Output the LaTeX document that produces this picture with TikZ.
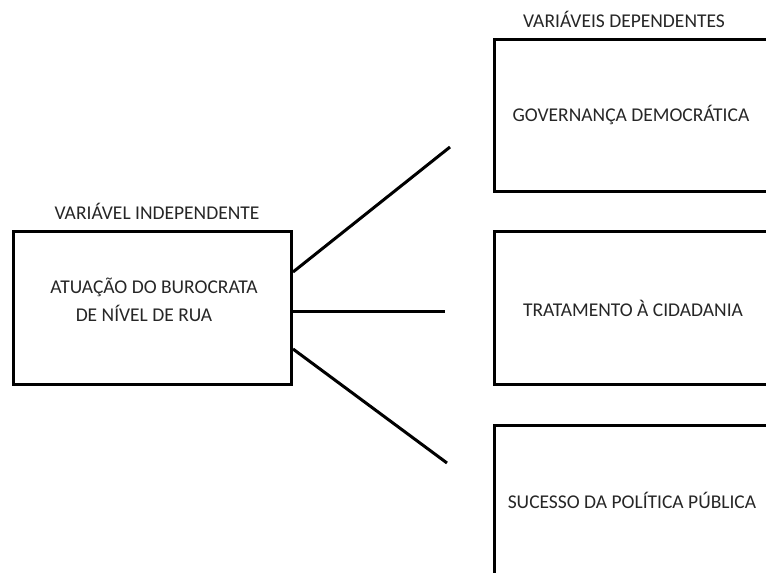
\documentclass[tikz,border=0pt]{standalone}
\usepackage{fontspec}
\setmainfont{Carlito}
\begin{document}
\begin{tikzpicture}[x=1pt,y=-1pt,
  box/.style={draw=black,line width=3pt,inner sep=0pt,anchor=north west},
  lbl/.style={font=\fontsize{19.5}{22}\selectfont,text=black!85,inner sep=0pt},
  link/.style={line width=3pt}]
\useasboundingbox (0,0) rectangle (766,573);
\clip (0,0) rectangle (766,573);
\fill[white] (0,0) rectangle (766,573);
% boxes
\node[box,minimum width=278pt,minimum height=153pt] (ind) at (12,230) {};
\node[box,minimum width=320pt,minimum height=152pt] (gov) at (493,38) {};
\node[box,minimum width=320pt,minimum height=153pt] (trat) at (493,230) {};
\node[box,minimum width=320pt,minimum height=200pt] (suc) at (493,424) {};
% labels
\node[lbl] (hind) at (157,211) {VARIÁVEL INDEPENDENTE};
\node[lbl] (hdep) at (624,19) {VARIÁVEIS DEPENDENTES};
\node[lbl] (t1) at (154,287) {ATUAÇÃO DO BUROCRATA};
\node[lbl] (t2) at (144,313) {DE NÍVEL DE RUA};
\node[lbl] (tg) at (631,115) {GOVERNANÇA DEMOCRÁTICA};
\node[lbl] (tt) at (633,308) {TRATAMENTO À CIDADANIA};
\node[lbl] (ts) at (632,500) {SUCESSO DA POLÍTICA PÚBLICA};
% connectors
\coordinate (e1) at (450,147);
\coordinate (e2) at (445,311);
\coordinate (e3) at (447,463);
\draw[link] (ind.east |- 0,272) -- (e1);
\draw[link] (ind.east |- 0,311) -- (e2);
\draw[link] (ind.east |- 0,349) -- (e3);
\end{tikzpicture}
\end{document}
